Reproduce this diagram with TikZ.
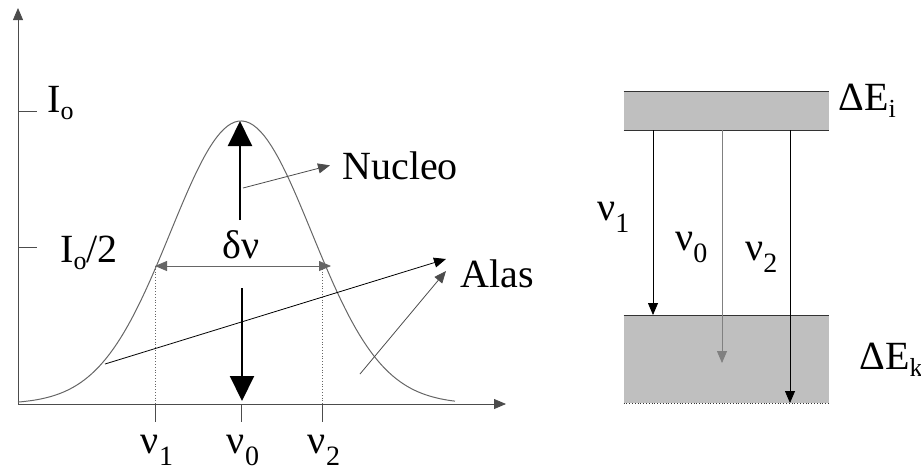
\documentclass[tikz,border=0pt]{standalone}
\usepackage{fontspec}
\setmainfont{Liberation Serif}
\usetikzlibrary{arrows.meta}

\newcommand{\lo}[1]{\raisebox{-3.5pt}{\fontsize{13}{13}\selectfont #1}}
\newcommand{\ix}[1]{\raisebox{-6pt}{\fontsize{14}{14}\selectfont #1}}

\tikzset{
  lbl/.style={font=\fontsize{20}{24}\selectfont, inner sep=0pt},
  thinarrow/.style={-{Triangle[length=6pt,width=5pt]}, line width=0.4pt},
  bigarrow/.style={-{Triangle[length=12.5pt,width=12pt]}, line width=1pt},
  band/.style={fill=black!25, inner sep=0pt, minimum width=102.5pt},
}

\begin{document}
\begin{tikzpicture}[x=0.5pt,y=-0.5pt]
\useasboundingbox (0,0) rectangle (921,473);

% ejes
\coordinate (O) at (18,404);
\coordinate (xend) at (506,404);
\coordinate (yend) at (18,8);
\draw [black!70, thinarrow] (O) -- (xend);
\draw [black!70, thinarrow] (O) -- (yend);
\draw [black!70] (18,111) -- (37,111);
\draw [black!70] (18,247) -- (37,247);
\node[lbl, anchor=base west] (Io) at (47,112) {I\lo{o}};
\node[lbl, anchor=base west] (Io2) at (60,262) {I\lo{o}/2};

% perfil
\draw [black!60, line width=0.5pt] plot[domain=18:455, samples=120]
  (\x, {404-283*exp(-((\x-241)/99.84)^2)});

\foreach \x/\name/\s in {155/n1/1, 241/n0/0, 322/n2/2} {
  \draw [black!70] (\x,404) -- (\x,422);
  \node[lbl, anchor=base] (\name) at (\x+2,453) {ν\ix{\s}};
}
\draw [black!60, densely dotted] (155,266) -- (155,404);
\draw [black!60, densely dotted] (322,266) -- (322,404);

% anchura
\coordinate (w1) at (155,266);
\coordinate (w2) at (331,266);
\draw [black!60, {Triangle[length=6pt,width=5pt]}-{Triangle[length=6pt,width=5pt]}] (w1) -- (w2);
\node[lbl, anchor=base] (dnu) at (241,258) {δν};

% nucleo
\coordinate (u0) at (240,220);
\coordinate (u1) at (240,121);
\coordinate (d0) at (242,288);
\coordinate (d1) at (242,401);
\draw [bigarrow] (u0) -- (u1);
\draw [bigarrow] (d0) -- (d1);
\node[lbl, anchor=base west] (nuc) at (342,179) {Nucleo};
\coordinate (c0) at (243,188);
\draw [black!70, thinarrow] (c0) -- ([xshift=-6pt]nuc.west);

% alas
\node[lbl, anchor=base west] (alas) at (460,287) {Alas};
\coordinate (a0) at (105,364);
\coordinate (a1) at (360,374);
\draw [thinarrow] (a0) -- (446,259);
\draw [black!70, thinarrow] (a1) -- (446,271);

% niveles
\node[band, minimum height=19pt] (Ei) at (726.5,111) {};
\node[band, minimum height=43.5pt] (Ek) at (726.5,359.5) {};
\draw [black!80] (Ei.north west) -- (Ei.north east);
\draw [black!80] (Ei.south west) -- (Ei.south east);
\draw [black!80] (Ek.north west) -- (Ek.north east);
\draw [black!80, densely dotted] (Ek.south west) -- (Ek.south east);
\node[lbl, anchor=base west] (dEi) at (838,110) {ΔE\lo{i}};
\node[lbl, anchor=base west] (dEk) at (859,369) {ΔE\lo{k}};

\coordinate (t1) at (653,130);
\coordinate (t0) at (722,130);
\coordinate (t2) at (790,130);
\coordinate (b1) at (653,315);
\coordinate (b0) at (722,363);
\coordinate (b2) at (790,403);
\draw [thinarrow] (t1) -- (b1);
\draw [black!50, thinarrow] (t0) -- (b0);
\draw [thinarrow] (t2) -- (b2);
\node[lbl, anchor=base west] (l1) at (597,220) {ν\ix{1}};
\node[lbl, anchor=base west] (l0) at (675,250) {ν\ix{0}};
\node[lbl, anchor=base west] (l2) at (745,260) {ν\ix{2}};
\end{tikzpicture}
\end{document}
